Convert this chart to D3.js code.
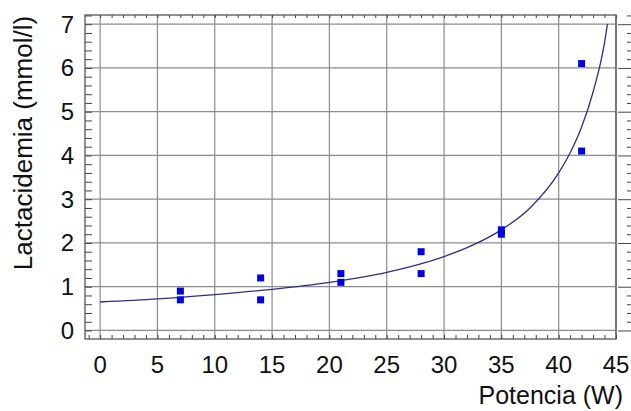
<!DOCTYPE html>
<html>
<head>
<meta charset="utf-8">
<script src="https://cdn.jsdelivr.net/npm/d3@7"></script>
<style>
	body { margin: 0; background: #fff; }
	text { font-family: Arial, "Liberation Sans", sans-serif; fill: #111; }
</style>
</head>
<body>
<div id="chart-area"></div>
<script>

// observed points
let potencia = [7, 7, 14, 14, 21, 21, 28, 28, 35, 35, 42, 42];
let lactato = [0.9, 0.7, 1.2, 0.7, 1.3, 1.1, 1.8, 1.3, 2.3, 2.2, 6.1, 4.1];

// fitted curve
let curveX = [0, 5, 10, 15, 20, 25, 30, 32.5, 35, 37.5, 40, 41, 42, 43, 44, 44.25];
let curveY = [0.65, 0.72, 0.82, 0.94, 1.10, 1.33, 1.69, 1.95, 2.30, 2.80, 3.60, 4.06, 4.65, 5.45, 6.58, 7.0];

// tick labels
let xTicks = [0, 5, 10, 15, 20, 25, 30, 35, 40, 45];
let yTicks = [0, 1, 2, 3, 4, 5, 6, 7];

let width = 631,
	height = 411;

// frame of the plot area
let frame = {left: 85, right: 616, top: 15, bottom: 339};

let svg = d3.select("#chart-area").append("svg")
	.attr("width", width)
	.attr("height", height);

let x = d3.scaleLinear()
	.domain([-1.32, 45])
	.range([frame.left, frame.right]);

let y = d3.scaleLinear()
	.domain([-0.195, 7.21])
	.range([frame.bottom, frame.top]);

// grid
svg.append("g")
	.selectAll("line.vgrid").data(xTicks)
	.enter().append("line")
	.attr("x1", d => x(d)).attr("x2", d => x(d))
	.attr("y1", frame.top).attr("y2", frame.bottom)
	.style("stroke", "#8c8c8c").style("stroke-width", 1.2);

svg.append("g")
	.selectAll("line.hgrid").data(yTicks)
	.enter().append("line")
	.attr("x1", frame.left).attr("x2", frame.right)
	.attr("y1", d => y(d)).attr("y2", d => y(d))
	.style("stroke", "#8c8c8c").style("stroke-width", 1.2);

// minor tick values
let xMinor = d3.range(-1, 46, 1);
let yMinor = d3.range(0, 7.21, 0.2);

function styleAxis(g) {
	g.select(".domain").remove();
	g.selectAll(".tick line").style("stroke", "#444");
	g.selectAll(".tick text").remove();
}

// bottom ticks, pointing up
svg.append("g")
	.attr("transform", "translate(0," + frame.bottom + ")")
	.call(d3.axisTop(x).tickValues(xMinor).tickSize(4))
	.call(styleAxis);

// top ticks, pointing down
svg.append("g")
	.attr("transform", "translate(0," + frame.top + ")")
	.call(d3.axisBottom(x).tickValues(xMinor.filter(d => d >= 0)).tickSize(3))
	.call(styleAxis);

// left ticks, pointing right
svg.append("g")
	.attr("transform", "translate(" + frame.left + ",0)")
	.call(d3.axisRight(y).tickValues(yMinor).tickSize(7))
	.call(styleAxis);

// right ticks, sitting outside the frame
svg.append("g")
	.attr("transform", "translate(636,0)")
	.call(d3.axisLeft(y).tickValues(yMinor.filter(d => Math.abs(d - Math.round(d)) > 0.01)).tickSize(9))
	.call(styleAxis);

svg.append("g")
	.attr("transform", "translate(636,0)")
	.call(d3.axisLeft(y).tickValues(yTicks).tickSize(18))
	.call(styleAxis);

// frame
svg.append("rect")
	.attr("x", frame.left).attr("y", frame.top)
	.attr("width", frame.right - frame.left)
	.attr("height", frame.bottom - frame.top)
	.style("fill", "none")
	.style("stroke", "#555")
	.style("stroke-width", 1.3);

// tick labels
svg.append("g")
	.selectAll("text").data(xTicks)
	.enter().append("text")
	.attr("x", d => x(d))
	.attr("y", 373)
	.attr("text-anchor", "middle")
	.style("font-size", "24px")
	.text(d => d);

svg.append("g")
	.selectAll("text").data(yTicks)
	.enter().append("text")
	.attr("x", 74)
	.attr("y", d => y(d))
	.attr("dy", "0.35em")
	.attr("text-anchor", "end")
	.style("font-size", "24px")
	.text(d => d);

// axis titles
svg.append("text")
	.attr("x", 623)
	.attr("y", 404)
	.attr("text-anchor", "end")
	.style("font-size", "25px")
	.text("Potencia (W)");

svg.append("text")
	.attr("transform", "translate(32,143) rotate(-90)")
	.attr("text-anchor", "middle")
	.style("font-size", "26px")
	.text("Lactacidemia (mmol/l)");

// fitted curve
let curveData = curveX.map((d, i) => [d, curveY[i]]);

svg.append("path")
	.datum(curveData)
	.attr("d", d3.line()
		.x(d => x(d[0]))
		.y(d => y(d[1]))
		.curve(d3.curveMonotoneX))
	.style("fill", "none")
	.style("stroke", "#2e2e8a")
	.style("stroke-width", 1.3);

// points
let points = potencia.map((d, i) => ({Potencia: d, Lactato: lactato[i]}));

svg.selectAll("rect.point").data(points)
	.enter().append("rect")
	.attr("class", "point")
	.attr("x", d => x(d.Potencia) - 3.5)
	.attr("y", d => y(d.Lactato) - 3.5)
	.attr("width", 7)
	.attr("height", 7)
	.style("fill", "#0000e6");

</script>
</body>
</html>
